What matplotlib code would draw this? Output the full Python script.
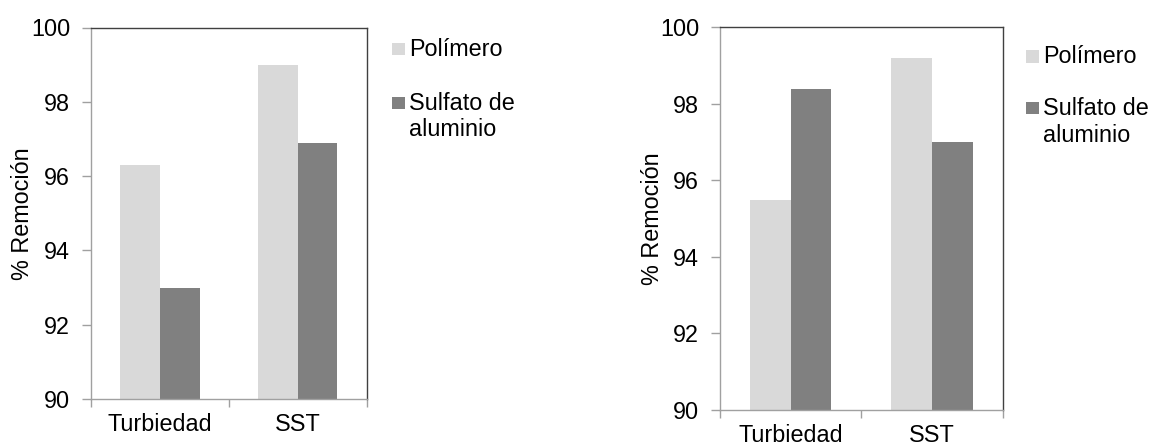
import numpy as np
import matplotlib
matplotlib.use("Agg")
import matplotlib.pyplot as plt
from matplotlib.patches import Rectangle

plt.rcParams['font.family'] = ['Liberation Sans', 'DejaVu Sans']
plt.rcParams['font.size'] = 16.8

# data
categories = ['Turbiedad', 'SST']
series_names = ['Polímero', 'Sulfato de\naluminio']
polimero_a = [96.3, 99.0]
sulfato_a = [93.0, 96.9]
polimero_b = [95.5, 99.2]
sulfato_b = [98.4, 97.0]
yticks = [90, 92, 94, 96, 98, 100]

light = '#d9d9d9'
dark = '#808080'
axis_gray = '#a0a0a0'
frame = '#404040'

W, H = 1154, 445
fig = plt.figure(figsize=(W / 100, H / 100), dpi=100)


def px_rect(x0, y0, x1, y1):
    # pixel box (from top-left) -> figure fraction [l, b, w, h]
    return [x0 / W, 1 - y1 / H, (x1 - x0) / W, (y1 - y0) / H]


def draw_panel(box, pol, sul, ylab_x):
    ax = fig.add_axes(box)
    x = np.arange(len(categories))
    w = 0.2875
    ax.bar(x - w / 2, pol, w, color=light, linewidth=0)
    ax.bar(x + w / 2, sul, w, color=dark, linewidth=0)
    ax.set_xlim(-0.5, len(categories) - 0.5)
    ax.set_ylim(90, 100)
    ax.set_yticks(yticks)
    ax.set_xticks(x)
    ax.set_xticklabels(categories)
    ax.set_xticks(np.arange(len(categories) + 1) - 0.5, minor=True)
    ax.tick_params(axis='x', which='major', length=0, pad=10)
    ax.tick_params(axis='x', which='minor', length=5.5, width=1, color=axis_gray)
    ax.tick_params(axis='y', length=6.3, width=1, color=axis_gray, pad=8.7)
    for s in ['left', 'bottom']:
        ax.spines[s].set_color(axis_gray)
        ax.spines[s].set_linewidth(1)
    for s in ['top', 'right']:
        ax.spines[s].set_color(frame)
        ax.spines[s].set_linewidth(1)
    ax.set_ylabel('% Remoción')
    ax.yaxis.set_label_coords(ylab_x, 0.5)
    ax.yaxis.label.set_verticalalignment('center')
    return ax


def draw_legend(x0, y0, dy, line_h=26.7):
    # handles and labels, pixel positions from top-left
    for i, (name, col) in enumerate(zip(series_names, [light, dark])):
        yt = y0 + i * dy
        fig.add_artist(Rectangle((x0 / W, 1 - (yt + 12) / H), 12.5 / W, 12 / H,
                                 transform=fig.transFigure, color=col, lw=0))
        # va='baseline' sits on the last line, so shift down for extra lines
        base = yt + 12.8 + name.count('\n') * line_h
        fig.text((x0 + 17) / W, 1 - base / H, name, ha='left', va='baseline',
                 linespacing=1.18)


draw_panel(px_rect(91, 27.5, 366.7, 399), polimero_a, sulfato_a, -0.247)
draw_panel(px_rect(720, 27.3, 1002.7, 410), polimero_b, sulfato_b, -0.239)
draw_legend(392, 43.3, 53.7)
draw_legend(1026, 50.5, 51.5)

fig.savefig('out.png', dpi=100)
